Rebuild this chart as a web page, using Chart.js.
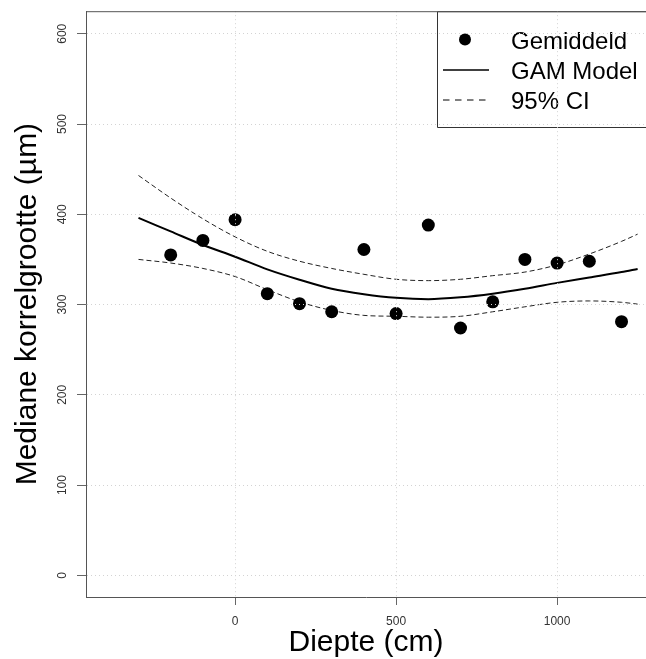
<!DOCTYPE html>
<html>
<head>
<meta charset="utf-8">
<script src="https://cdn.jsdelivr.net/npm/chart.js@4/dist/chart.umd.min.js"></script>
<style>
  body { margin: 0; background: #ffffff; }
  canvas { display: block; }
</style>
</head>
<body>
<canvas id="gamChart" width="646" height="659"></canvas>
<script>
'use strict'

// gemeten mediane korrelgrootte per diepte
var depthCm = [-200, -100, 0, 100, 200, 300, 400, 500, 600, 700, 800, 900, 1000, 1100, 1200];
var meanGrain = [355, 371, 394, 312, 301, 292, 361, 290, 388, 274, 303, 350, 346, 348, 281];

var curveDepth = [-300, -200, -100, 0, 100, 200, 300, 400, 500, 600, 700, 800, 900, 1000, 1100, 1200, 1250];
var gamFit = [396, 381, 366, 353, 339, 327.5, 317.5, 311.5, 307.5, 306, 308, 312, 317.5, 324, 330, 336, 339.5];
var upperCI = [443, 418, 395, 375, 359, 348, 340, 333.5, 328, 326.5, 328, 332, 336, 344, 356, 370, 378];
var lowerCI = [350, 346, 340, 331, 316.5, 303, 293.5, 288, 287, 286, 287, 292, 297.5, 302.5, 304, 302.5, 300.5];

var xTicks = [0, 500, 1000];
var yTicks = [0, 100, 200, 300, 400, 500, 600];
var legendLabels = ['Gemiddeld', 'GAM Model', '95% CI'];

var FONT = '"Liberation Sans", Arial, sans-serif';

function toXY(xs, ys) {
    var out = [];
    for (let i = 0; i < xs.length; i++) {
        out.push({x: xs[i], y: ys[i]});
    }
    return out;
}

// R-achtige legenda rechtsboven in het plotvlak
var rLegend = {
    id: 'rLegend',
    afterDatasetsDraw: function (chart) {
        var ctx = chart.ctx;
        var area = chart.chartArea;
        ctx.save();
        ctx.strokeStyle = '#333333';
        ctx.lineWidth = 1;
        ctx.beginPath();
        ctx.moveTo(660, area.top + 0.5);
        ctx.lineTo(437.5, area.top + 0.5);
        ctx.lineTo(437.5, 127.5);
        ctx.lineTo(660, 127.5);
        ctx.stroke();

        // symbolen
        ctx.fillStyle = '#000000';
        ctx.beginPath();
        ctx.arc(465, 39.5, 6, 0, Math.PI * 2);
        ctx.fill();

        ctx.strokeStyle = '#000000';
        ctx.lineWidth = 1.5;
        ctx.beginPath();
        ctx.moveTo(443, 70);
        ctx.lineTo(489, 70);
        ctx.stroke();

        ctx.lineWidth = 1;
        ctx.setLineDash([6.5, 5.5]);
        ctx.beginPath();
        ctx.moveTo(443, 100);
        ctx.lineTo(489, 100);
        ctx.stroke();
        ctx.setLineDash([]);

        ctx.font = '24px ' + FONT;
        ctx.textAlign = 'left';
        ctx.textBaseline = 'alphabetic';
        var ys = [48.5, 79, 108.5];
        for (let i = 0; i < legendLabels.length; i++) {
            ctx.fillText(legendLabels[i], 511, ys[i]);
        }
        ctx.restore();
    }
};

// bovenrand van het plotvlak
var topBorder = {
    id: 'topBorder',
    afterDraw: function (chart) {
        var ctx = chart.ctx;
        var area = chart.chartArea;
        ctx.save();
        ctx.strokeStyle = '#555555';
        ctx.lineWidth = 1;
        ctx.beginPath();
        ctx.moveTo(area.left, area.top + 0.5);
        ctx.lineTo(area.right, area.top + 0.5);
        ctx.stroke();
        ctx.restore();
    }
};

var chartConfig = {
    type: 'scatter',
    data: {
        datasets: [{
            label: 'Gemiddeld',
            data: toXY(depthCm, meanGrain),
            showLine: false,
            pointRadius: 6.5,
            pointHoverRadius: 6.5,
            backgroundColor: '#000000',
            borderColor: '#000000',
            borderWidth: 0,
            order: 1
        }, {
            label: 'GAM Model',
            data: toXY(curveDepth, gamFit),
            showLine: true,
            pointRadius: 0,
            borderColor: '#000000',
            borderWidth: 2,
            cubicInterpolationMode: 'monotone',
            fill: false,
            order: 2
        }, {
            label: '95% CI boven',
            data: toXY(curveDepth, upperCI),
            showLine: true,
            pointRadius: 0,
            borderColor: '#222222',
            borderWidth: 1,
            borderDash: [5, 3],
            cubicInterpolationMode: 'monotone',
            fill: false,
            order: 3
        }, {
            label: '95% CI onder',
            data: toXY(curveDepth, lowerCI),
            showLine: true,
            pointRadius: 0,
            borderColor: '#222222',
            borderWidth: 1,
            borderDash: [5, 3],
            cubicInterpolationMode: 'monotone',
            fill: false,
            order: 3
        }]
    },
    options: {
        responsive: false,
        animation: false,
        layout: {
            autoPadding: false,
            padding: {top: 9, left: 0, right: 0, bottom: 0}
        },
        plugins: {
            legend: {display: false},
            tooltip: {enabled: false},
            title: {display: false}
        },
        scales: {
            x: {
                type: 'linear',
                position: 'bottom',
                min: -463,
                max: 1276,
                afterBuildTicks: function (axis) {
                    axis.ticks = xTicks.map(function (v) { return {value: v}; });
                },
                afterFit: function (axis) {
                    axis.height = 62;
                },
                grid: {
                    color: '#d3d3d3',
                    lineWidth: 1,
                    z: 1,
                    drawTicks: true,
                    tickLength: 8,
                    tickColor: '#666666',
                    tickBorderDash: []
                },
                border: {
                    display: true,
                    color: '#555555',
                    width: 1,
                    dash: [1, 3],
                    z: 2
                },
                ticks: {
                    autoSkip: false,
                    maxRotation: 0,
                    padding: 9,
                    color: '#333333',
                    font: {family: FONT, size: 12},
                    callback: function (v) { return String(v); }
                },
                title: {
                    display: true,
                    text: 'Diepte (cm)',
                    color: '#000000',
                    font: {family: FONT, size: 30},
                    padding: {top: 0, bottom: -2}
                }
            },
            y: {
                type: 'linear',
                position: 'left',
                min: -24,
                max: 625,
                afterBuildTicks: function (axis) {
                    axis.ticks = yTicks.map(function (v) { return {value: v}; });
                },
                afterFit: function (axis) {
                    axis.width = 86;
                },
                grid: {
                    color: '#d3d3d3',
                    lineWidth: 1,
                    z: 1,
                    drawTicks: true,
                    tickLength: 9,
                    tickColor: '#666666',
                    tickBorderDash: []
                },
                border: {
                    display: true,
                    color: '#555555',
                    width: 1,
                    dash: [1, 3],
                    z: 2
                },
                ticks: {
                    autoSkip: false,
                    minRotation: 90,
                    maxRotation: 90,
                    crossAlign: 'center',
                    padding: 4,
                    color: '#333333',
                    font: {family: FONT, size: 12},
                    callback: function (v) { return String(v); }
                },
                title: {
                    display: true,
                    text: 'Mediane korrelgrootte (µm)',
                    color: '#000000',
                    font: {family: FONT, size: 30},
                    padding: {top: 10, bottom: 0}
                }
            }
        }
    },
    plugins: [rLegend, topBorder]
};

var gamChart = new Chart(document.getElementById('gamChart'), chartConfig);
</script>
</body>
</html>
